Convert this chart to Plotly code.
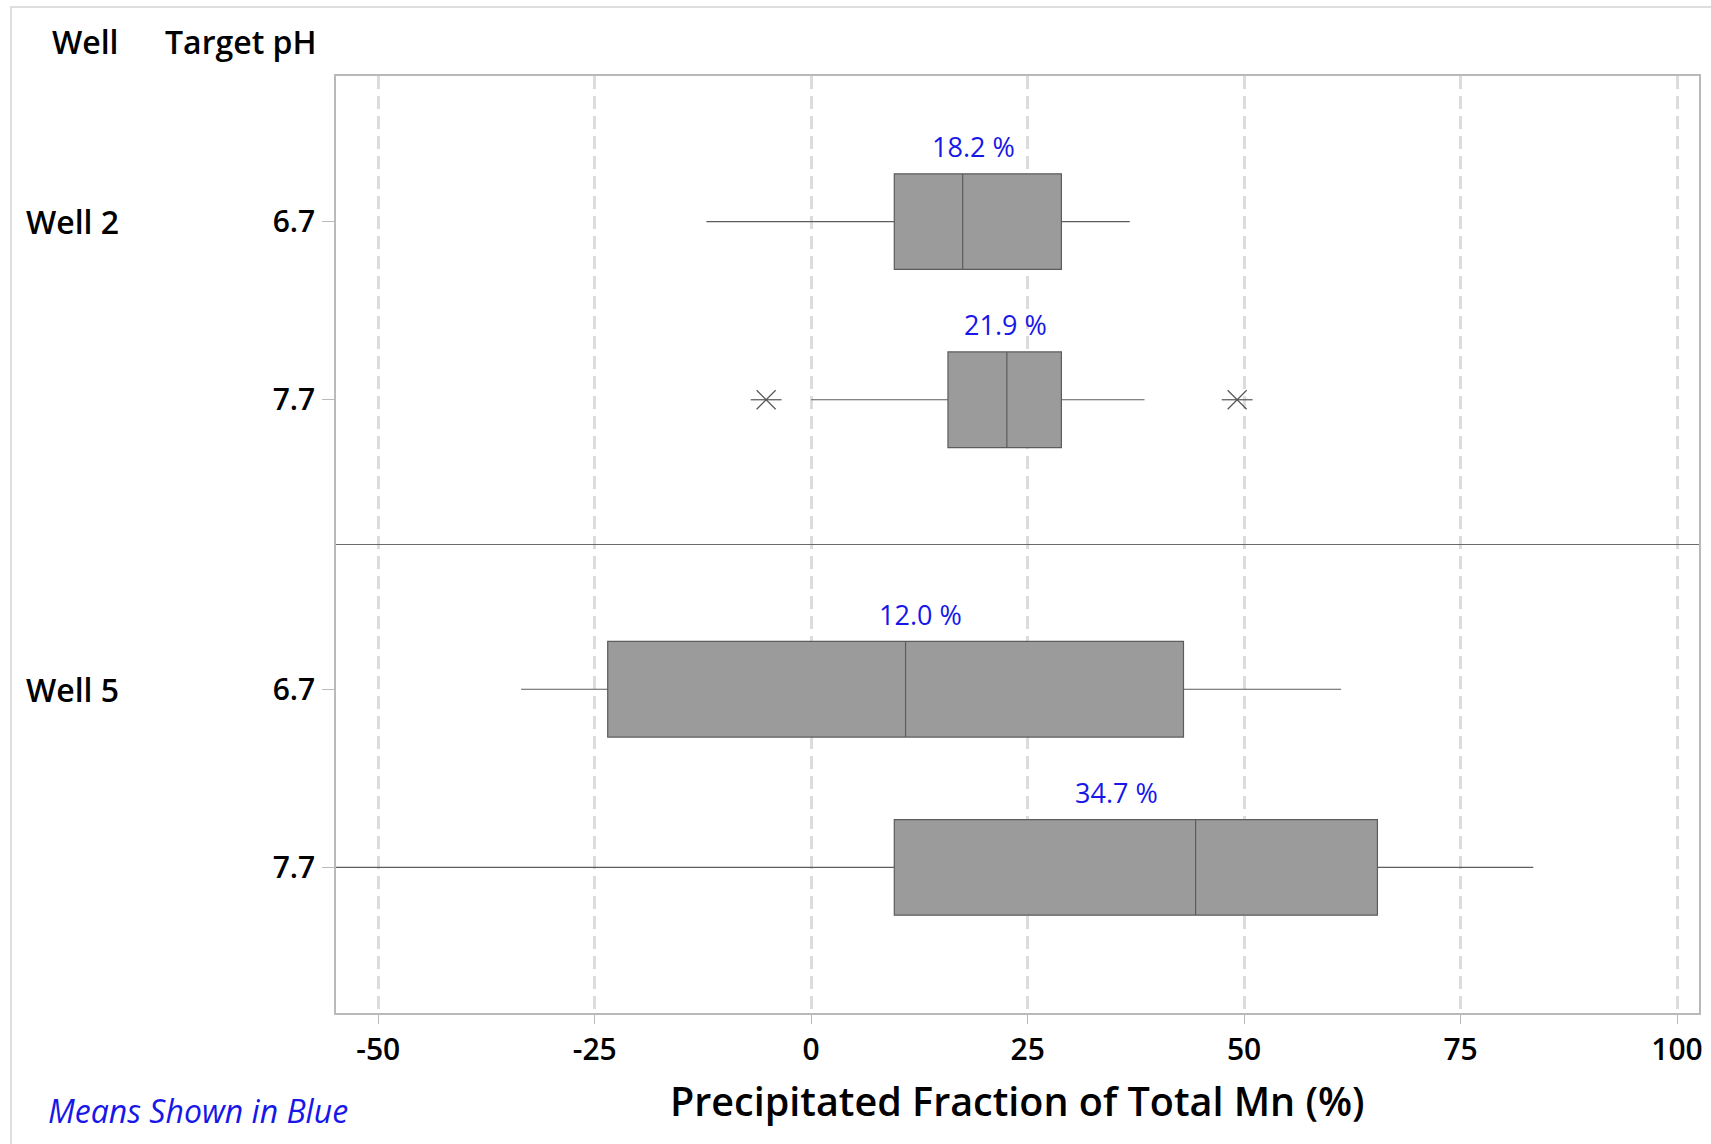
import plotly.graph_objects as go

# Precipitated fraction of total Mn (%) by well and target pH
wells = ["Well 2", "Well 2", "Well 5", "Well 5"]
target_ph = ["6.7", "7.7", "6.7", "7.7"]
lower_whisker = [-12.1, 0.0, -33.5, -62.0]
q1 = [9.6, 15.8, -23.5, 9.6]
median = [17.5, 22.6, 10.9, 44.4]
q3 = [28.9, 28.9, 43.0, 65.4]
upper_whisker = [36.8, 38.5, 61.2, 83.4]
means = [18.2, 21.9, 12.0, 34.7]
outlier_row = [1, 1]
outlier_value = [-5.2, 49.2]
x_ticks = [-50, -25, 0, 25, 50, 75, 100]

# Vertical layout: rows within a well are one unit apart, wells separated by a wider gap
GROUP_GAP = 0.625
well_order = sorted(set(wells), key=wells.index)
positions = [i + well_order.index(w) * GROUP_GAP for i, w in enumerate(wells)]
separator_y = (positions[1] + positions[2]) / 2

BOX_FILL = "#9B9B9B"
BOX_LINE = "#5C5C5C"
FRAME = "#B9B9B9"
BLUE = "#1717E8"
FONT = "Open Sans"

# Pixel geometry of the plotting area
W, H = 1711, 1144
L, R, T, B = 336, 1699, 76, 1013
pw, ph = R - L, B - T


def px_x(px):
    return (px - L) / pw


def px_y(py):
    return (B - py) / ph


fig = go.Figure()

for i in range(len(wells)):
    fig.add_trace(go.Box(
        orientation="h",
        y=[positions[i]],
        q1=[q1[i]], median=[median[i]], q3=[q3[i]],
        lowerfence=[lower_whisker[i]], upperfence=[upper_whisker[i]],
        width=0.537,
        whiskerwidth=0,
        fillcolor=BOX_FILL,
        line=dict(color=BOX_LINE, width=1.2),
        boxpoints=False,
        hoverinfo="skip",
        showlegend=False,
    ))

# Outliers drawn as six-armed asterisks (diagonal cross plus horizontal bar)
out_y = [positions[r] for r in outlier_row]
fig.add_trace(go.Scatter(
    x=outlier_value, y=out_y, mode="markers",
    marker=dict(symbol="x-thin-open", size=19, color="#555555",
                line=dict(width=1.2, color="#555555")),
    showlegend=False, hoverinfo="skip",
))
fig.add_trace(go.Scatter(
    x=outlier_value, y=out_y, mode="markers",
    marker=dict(symbol="line-ew-open", size=22, color="#555555",
                line=dict(width=1.2, color="#555555")),
    showlegend=False, hoverinfo="skip",
))

annotations = []
# Mean labels above each box
for i in range(len(wells)):
    annotations.append(dict(
        x=means[i], y=positions[i] - 0.42, xref="x", yref="y",
        text=f"{means[i]:.1f} %", showarrow=False,
        xanchor="center", yanchor="middle", xshift=5,
        font=dict(family=FONT, size=27, color=BLUE),
    ))

# Well labels in the left column
for w in well_order:
    annotations.append(dict(
        x=px_x(24), y=positions[wells.index(w)], xref="paper", yref="y",
        text=w, showarrow=False, xanchor="left", yanchor="middle",
        font=dict(family=FONT, size=32, color="black", weight=600),
    ))

# Column headers
annotations.append(dict(
    x=px_x(50), y=px_y(41), xref="paper", yref="paper", text="Well",
    showarrow=False, xanchor="left", yanchor="middle",
    font=dict(family=FONT, size=32, color="black", weight=600),
))
annotations.append(dict(
    x=px_x(163), y=px_y(41), xref="paper", yref="paper", text="Target pH",
    showarrow=False, xanchor="left", yanchor="middle",
    font=dict(family=FONT, size=32, color="black", weight=600),
))

# Axis title
annotations.append(dict(
    x=0.5, y=px_y(1101), xref="paper", yref="paper",
    text="Precipitated Fraction of Total Mn (%)", showarrow=False,
    xanchor="center", yanchor="middle",
    font=dict(family=FONT, size=39.5, color="black", weight=600),
))

# Footnote
annotations.append(dict(
    x=px_x(46), y=px_y(1110), xref="paper", yref="paper",
    text="<i>Means Shown in Blue</i>", showarrow=False,
    xanchor="left", yanchor="middle",
    font=dict(family=FONT, size=32, color=BLUE),
))

shapes = [
    # Divider between the two wells
    dict(type="line", xref="paper", yref="y", x0=0, x1=1,
         y0=separator_y, y1=separator_y,
         line=dict(color="#6A6A6A", width=1.2), layer="above"),
    # Outer border of the graphic
    dict(type="rect", xref="paper", yref="paper",
         x0=px_x(11), x1=px_x(1730), y0=px_y(1160), y1=px_y(7),
         line=dict(color="#DEDEDE", width=2), layer="below"),
]

y_top = positions[0] - 0.8174
y_bottom = positions[-1] + 0.8174

fig.update_layout(
    width=W, height=H, autosize=False,
    margin=dict(l=L, r=W - R, t=T, b=H - B, pad=0),
    paper_bgcolor="white", plot_bgcolor="white",
    annotations=annotations, shapes=shapes,
    showlegend=False,
    font=dict(family=FONT, color="black"),
)

fig.update_xaxes(
    range=[-54.88, 102.54], automargin=False,
    tickvals=x_ticks, ticktext=[str(v) for v in x_ticks],
    showgrid=True, gridcolor="#DCDCDC", gridwidth=2.5, griddash="13px,7px",
    zeroline=False,
    showline=True, linecolor=FRAME, linewidth=1.5, mirror=True,
    ticks="outside", ticklen=9, tickcolor=FRAME, tickwidth=1.2,
    tickfont=dict(family=FONT, size=30, color="black", weight=600),
    ticklabelstandoff=0,
)

fig.update_yaxes(
    range=[y_bottom, y_top], automargin=False,
    tickvals=positions, ticktext=target_ph,
    showgrid=False, zeroline=False,
    showline=True, linecolor=FRAME, linewidth=1.5, mirror=True,
    ticks="outside", ticklen=12, tickcolor=FRAME, tickwidth=1.2,
    tickfont=dict(family=FONT, size=30, color="black", weight=600),
    ticklabelstandoff=1,
)

fig.write_html("out.html")
